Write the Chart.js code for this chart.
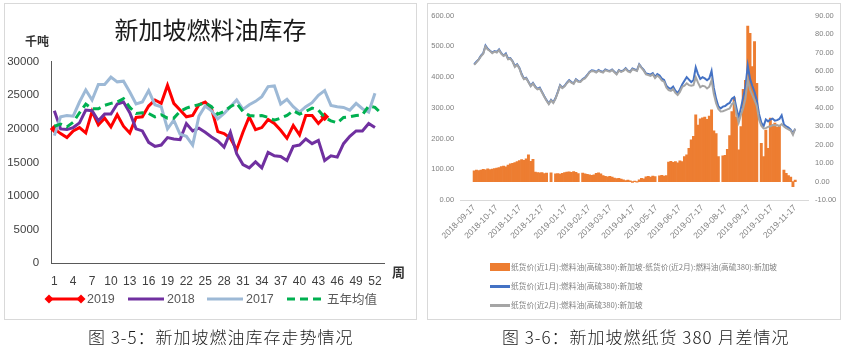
<!DOCTYPE html>
<html><head><meta charset="utf-8">
<script src="https://cdn.jsdelivr.net/npm/chart.js@4.4.1/dist/chart.umd.min.js"></script>
<style>
html,body{margin:0;padding:0;background:#fff;}
body{width:847px;height:345px;position:relative;overflow:hidden;font-family:'Liberation Sans','Noto Sans CJK SC',sans-serif;}
.abs{position:absolute;white-space:pre;line-height:1;}
.frame{position:absolute;border:1px solid #D9D9D9;box-sizing:border-box;}
canvas{position:absolute;}
.cap{position:absolute;font-family:'Noto Sans CJK SC',sans-serif;font-size:17px;font-weight:300;letter-spacing:1px;color:#1a1a1a;white-space:pre;line-height:1;}
.lg{position:absolute;font-size:12.5px;color:#595959;line-height:1;font-family:'Liberation Sans','Noto Sans CJK SC',sans-serif;}
.rl{position:absolute;font-size:7.7px;color:#7F7F7F;line-height:1;font-family:'Noto Sans CJK SC',sans-serif;white-space:pre;}
</style></head>
<body>
<div class="frame" style="left:4px;top:3px;width:413px;height:317px;"></div>
<div class="frame" style="left:427px;top:3px;width:414px;height:317px;"></div>
<canvas id="cL" width="413" height="317" style="left:4px;top:3px;"></canvas>
<canvas id="cR" width="414" height="317" style="left:427px;top:3px;"></canvas>

<div class="abs" style="left:25px;top:35px;font-size:12px;font-weight:bold;color:#333;font-family:'Noto Sans CJK SC',sans-serif;">千吨</div>
<div class="abs" style="left:392px;top:265px;font-size:13px;font-weight:bold;color:#333;font-family:'Noto Sans CJK SC',sans-serif;">周</div>

<!-- left legend -->
<svg class="abs" style="left:44px;top:294px" width="42" height="10"><line x1="5" y1="5" x2="37" y2="5" stroke="#FF0000" stroke-width="3"/><polygon points="5,0.5 9.5,5 5,9.5 0.5,5" fill="#FF0000"/><polygon points="37,0.5 41.5,5 37,9.5 32.5,5" fill="#FF0000"/></svg>
<div class="lg" style="left:87px;top:293px;">2019</div>
<svg class="abs" style="left:128px;top:294px" width="36" height="10"><line x1="0" y1="5" x2="36" y2="5" stroke="#7030A0" stroke-width="3"/></svg>
<div class="lg" style="left:167px;top:293px;">2018</div>
<svg class="abs" style="left:207px;top:294px" width="36" height="10"><line x1="0" y1="5" x2="36" y2="5" stroke="#9DB9D6" stroke-width="3"/></svg>
<div class="lg" style="left:246px;top:293px;">2017</div>
<svg class="abs" style="left:287px;top:294px" width="36" height="10"><line x1="0" y1="5" x2="36" y2="5" stroke="#00B050" stroke-width="3" stroke-dasharray="8,5"/></svg>
<div class="lg" style="left:327px;top:293px;font-family:'Noto Sans CJK SC',sans-serif;">五年均值</div>

<!-- right legend -->
<div class="abs" style="left:490px;top:263px;width:20px;height:8px;background:#ED7D31;"></div>
<div class="rl" style="left:511px;top:263px;">纸货价(近1月):燃料油(高硫380):新加坡-纸货价(近2月):燃料油(高硫380):新加坡</div>
<div class="abs" style="left:490px;top:285px;width:20px;height:2.5px;background:#4472C4;"></div>
<div class="rl" style="left:511px;top:282px;">纸货价(近1月):燃料油(高硫380):新加坡</div>
<div class="abs" style="left:490px;top:304px;width:20px;height:2.5px;background:#A5A5A5;"></div>
<div class="rl" style="left:511px;top:301px;">纸货价(近2月):燃料油(高硫380):新加坡</div>

<div class="cap" style="left:88px;top:328px;">图 3-5：新加坡燃油库存走势情况</div>
<div class="cap" style="left:502px;top:328px;">图 3-6：新加坡燃纸货 380 月差情况</div>

<script>
// ---------- Left chart data ----------
const weeks = [1,2,3,4,5,6,7,8,9,10,11,12,13,14,15,16,17,18,19,20,21,22,23,24,25,26,27,28,29,30,31,32,33,34,35,36,37,38,39,40,41,42,43,44,45,46,47,48,49,50,51,52,53];
const inv2019 = [20000,19300,18700,19700,20200,19400,22600,20600,21600,20300,22100,20400,19400,21700,21800,23400,24300,23800,26500,23800,22800,21800,22000,23600,24000,23000,19600,19300,18600,16900,19500,21800,19900,20200,21400,20800,19800,18600,20500,19100,22000,22000,20800,21800];
const inv2018 = [22700,20000,19900,20200,20900,22800,22700,21200,22200,22200,23700,24000,22400,20000,19700,18000,17400,17600,18700,18500,18400,20800,19700,20100,19500,18800,18200,17300,19500,16300,14700,14200,15100,14200,16500,16000,15900,15300,17400,17600,18500,17800,18300,15300,16000,15800,17800,18900,19700,19700,20800,20200];
const inv2017 = [19000,21800,22000,21900,24000,25800,24300,26600,26600,27700,27000,27100,25500,23700,24000,25700,23600,23300,20000,21300,19200,18900,17600,21900,23400,22700,21500,22300,23300,24300,22900,23600,24100,24800,26300,26400,23700,24400,23300,22500,23300,23900,25000,25700,23500,23300,23200,22800,23800,23000,22500,25300];
const avg5y = [20400,20700,20300,21000,22400,23700,23000,23000,23500,23800,24000,24500,23200,22300,22400,22300,21800,22100,21600,21600,22600,23100,23400,23600,23900,23300,22200,22600,23300,23800,22600,22000,21900,22000,21700,21300,21600,22000,22700,22200,22600,23100,22800,21700,21200,20900,21700,21800,22000,22100,23400,23200,22300];
const leftTitle = '新加坡燃料油库存';

// ---------- Right chart data ----------
const dates = ['2018-09-17','2018-09-20','2018-09-23','2018-09-26','2018-09-29','2018-10-02','2018-10-05','2018-10-08','2018-10-11','2018-10-14','2018-10-17','2018-10-20','2018-10-23','2018-10-26','2018-10-29','2018-11-01','2018-11-04','2018-11-07','2018-11-10','2018-11-13','2018-11-16','2018-11-19','2018-11-22','2018-11-25','2018-11-28','2018-12-01','2018-12-04','2018-12-07','2018-12-10','2018-12-13','2018-12-16','2018-12-19','2018-12-22','2018-12-25','2018-12-28','2018-12-31','2019-01-03','2019-01-06','2019-01-09','2019-01-12','2019-01-15','2019-01-18','2019-01-21','2019-01-24','2019-01-27','2019-01-30','2019-02-02','2019-02-05','2019-02-08','2019-02-11','2019-02-14','2019-02-17','2019-02-20','2019-02-23','2019-02-26','2019-03-01','2019-03-04','2019-03-07','2019-03-10','2019-03-13','2019-03-16','2019-03-19','2019-03-22','2019-03-25','2019-03-28','2019-03-31','2019-04-03','2019-04-06','2019-04-09','2019-04-12','2019-04-15','2019-04-18','2019-04-21','2019-04-24','2019-04-27','2019-04-30','2019-05-03','2019-05-06','2019-05-09','2019-05-12','2019-05-15','2019-05-18','2019-05-21','2019-05-24','2019-05-27','2019-05-30','2019-06-02','2019-06-05','2019-06-08','2019-06-11','2019-06-14','2019-06-17','2019-06-20','2019-06-23','2019-06-26','2019-06-29','2019-07-02','2019-07-05','2019-07-08','2019-07-11','2019-07-14','2019-07-17','2019-07-20','2019-07-23','2019-07-26','2019-07-29','2019-08-01','2019-08-04','2019-08-07','2019-08-10','2019-08-13','2019-08-16','2019-08-19','2019-08-22','2019-08-25','2019-08-28','2019-08-31','2019-09-03','2019-09-06','2019-09-09','2019-09-12','2019-09-15','2019-09-18','2019-09-21','2019-09-24','2019-09-27','2019-09-30','2019-10-03','2019-10-06','2019-10-09','2019-10-12','2019-10-15','2019-10-18','2019-10-21','2019-10-24','2019-10-27','2019-10-30','2019-11-02','2019-11-05','2019-11-08','2019-11-11','2019-11-14','2019-11-17'];
const near1 = [442,450,458,470,478,503,492,486,480,485,482,490,478,470,477,460,462,452,436,442,430,410,395,398,385,372,381,370,362,366,352,338,325,314,326,318,332,352,374,366,372,382,390,384,380,393,387,386,394,398,407,417,422,421,417,423,419,417,425,422,420,425,418,411,423,419,422,429,421,418,428,425,422,442,432,424,412,410,408,413,401,410,405,395,391,372,365,362,369,356,348,360,376,388,400,392,384,390,432,410,394,400,396,390,396,420,365,330,305,298,304,306,312,316,330,335,300,268,300,335,370,438,395,372,352,325,280,252,240,262,256,262,265,258,260,264,276,246,240,236,229,217,232];
const near2 = [440,448,457,468,476,500,490,485,478,483,480,488,476,469,474,458,460,450,433,440,428,407,393,396,383,370,379,367,360,363,350,336,323,312,324,316,330,350,372,364,370,380,388,382,378,391,385,384,392,396,405,415,420,419,415,421,417,415,423,420,418,423,416,409,421,417,420,427,419,416,426,423,420,440,430,421,409,407,404,409,397,405,399,389,385,366,358,355,361,349,342,352,368,372,380,374,372,374,400,382,367,372,370,363,369,390,345,315,296,288,289,292,295,298,312,318,282,252,278,300,330,392,360,342,325,306,262,242,233,234,238,240,244,243,244,241,247,239,234,230,226,212,232];
const spread = [5.8,6.2,5.9,6.3,6.6,6.4,6.9,6.5,6.8,7.0,7.3,7.6,8.1,8.4,8.0,9.0,9.6,9.9,10.3,10.8,11.4,11.9,11.5,12.3,14.5,11.0,12.0,5.2,4.9,4.8,4.9,4.4,4.6,null,4.8,null,4.2,4.3,4.0,4.5,4.9,5.1,5.3,5.0,5.4,5.0,4.4,null,4.6,4.2,3.9,3.6,3.4,3.7,4.5,4.8,4.2,3.3,2.8,2.6,2.9,2.4,1.9,1.6,1.8,1.4,0.9,0.6,0.8,0.4,-0.5,0.3,-0.3,0.9,1.8,1.5,2.6,2.9,2.4,3.0,2.7,null,3.1,3.4,3.0,3.3,10.6,11.0,10.4,10.8,10.2,11.2,10.9,13.6,14.5,18.0,22.6,24.5,36.2,30.7,34.0,34.6,35.0,33.8,35.6,38.9,27.5,26.0,13.6,null,13.9,14.2,17.5,25.0,38.0,45.6,35.0,17.2,29.8,50.0,55.0,84.4,80.5,62.4,76.0,53.3,null,20.8,13.6,28.0,18.1,34.5,30.8,31.8,29.5,30.5,null,6.3,4.5,3.2,2.5,-2.7,0.8];
const tickLabels = ['2018-09-17','2018-10-17','2018-11-17','2018-12-17','2019-01-17','2019-02-17','2019-03-17','2019-04-17','2019-05-17','2019-06-17','2019-07-17','2019-08-17','2019-09-17','2019-10-17','2019-11-17'];
const seriesNames = ['纸货价(近1月):燃料油(高硫380):新加坡-纸货价(近2月):燃料油(高硫380):新加坡','纸货价(近1月):燃料油(高硫380):新加坡','纸货价(近2月):燃料油(高硫380):新加坡'];

Chart.defaults.font.family = "'Liberation Sans','Noto Sans CJK SC',sans-serif";
Chart.defaults.animation = false;

// ---------- Left chart ----------
const lastIdx = inv2019.length - 1;
new Chart(document.getElementById('cL'), {
  type: 'line',
  data: {
    labels: weeks.map(String),
    datasets: [
      {label:'2019', data: inv2019, borderColor:'#FF0000', backgroundColor:'#FF0000', borderWidth:3, tension:0,
       pointStyle:'rectRot', pointRadius: c => (c.dataIndex === 0 || c.dataIndex === lastIdx) ? 4.5 : 0, pointBorderWidth:0, order:3},
      {label:'2018', data: inv2018, borderColor:'#7030A0', borderWidth:3, pointRadius:0, tension:0, order:2},
      {label:'2017', data: inv2017, borderColor:'#9DB9D6', borderWidth:3, pointRadius:0, tension:0, order:1},
      {label:'五年均值', data: avg5y, borderColor:'#00B050', borderWidth:3, borderDash:[8,5], pointRadius:0, tension:0, order:0}
    ]
  },
  options: {
    responsive:false, devicePixelRatio:1,
    layout:{padding:{left:0,right:0,top:0,bottom:0}},
    plugins:{
      legend:{display:false}, tooltip:{enabled:false},
      title:{display:true, text:leftTitle, color:'#1a1a1a', font:{size:24, family:"'Noto Sans CJK SC',sans-serif", weight:'normal'}, padding:{top:12,bottom:17.9}}
    },
    scales:{
      x:{offset:true, grid:{display:false, drawTicks:false}, border:{display:true,color:'#595959',width:1},
         ticks:{autoSkip:false, maxRotation:0, minRotation:0, padding:11, color:'#404040', font:{size:12},
                callback:(v,i)=> (i%3===0 && i<52) ? String(weeks[i]) : ''},
         afterFit: s => { s.height = 56.7; }},
      y:{min:0,max:30000, grid:{display:false, drawTicks:false}, border:{display:true,color:'#595959',width:1},
         ticks:{stepSize:5000, padding:12, color:'#404040', font:{size:11.5}, callback: v => String(v)},
         afterFit: s => { s.width = 47.2; }},
      yR:{position:'right', display:true, min:0, max:30000, grid:{display:false, drawTicks:false}, border:{display:false},
         ticks:{display:false}, afterFit: s => { s.width = 32.6; }}
    }
  }
});

// ---------- Right chart ----------
const base = Date.UTC(2018,8,17);
const dayOf = s => { const p = s.split('-').map(Number); return Math.round((Date.UTC(p[0],p[1]-1,p[2]) - base)/86400000); };
const xs = dates.map(dayOf);
const tickDays = tickLabels.map(dayOf);
const pts = arr => arr.map((v,i) => ({x: xs[i], y: v}));

new Chart(document.getElementById('cR'), {
  type: 'bar',
  data: {
    datasets: [
      {type:'line', label: seriesNames[2], data: pts(near2), yAxisID:'y', borderColor:'#A5A5A5', borderWidth:2, pointRadius:0, tension:0, order:1},
      {type:'line', label: seriesNames[1], data: pts(near1), yAxisID:'y', borderColor:'#4472C4', borderWidth:2, pointRadius:0, tension:0, order:2},
      {type:'bar', label: seriesNames[0], data: pts(spread), yAxisID:'y1', backgroundColor:'#ED7D31', borderWidth:0, barPercentage:1, categoryPercentage:1, order:3}
    ]
  },
  options: {
    responsive:false, devicePixelRatio:1,
    layout:{padding:{left:0,right:0,top:12.7,bottom:0}},
    plugins:{legend:{display:false}, tooltip:{enabled:false}},
    scales:{
      x:{type:'linear', min:-2.5, max:428.5, grid:{display:false, drawTicks:false}, border:{display:true,color:'#D9D9D9'},
         afterBuildTicks: s => { s.ticks = tickDays.map(v => ({value:v})); },
         ticks:{autoSkip:false, minRotation:45, maxRotation:45, padding:3, color:'#808080', font:{size:8.5},
                callback: v => { const i = tickDays.indexOf(v); return i >= 0 ? tickLabels[i] : ''; }},
         afterFit: s => { s.height = 120; }},
      y:{position:'left', min:0, max:600, grid:{display:false, drawTicks:false}, border:{display:false},
         ticks:{stepSize:100, padding:6.5, color:'#808080', font:{size:7.5}, callback: v => Number(v).toFixed(2)},
         afterFit: s => { s.width = 33.7; }},
      y1:{position:'right', min:-10, max:90, grid:{display:false, drawTicks:false}, border:{display:false},
         ticks:{stepSize:10, padding:6.3, color:'#808080', font:{size:7.5}, callback: v => Number(v).toFixed(2)},
         afterFit: s => { s.width = 32.3; }}
    }
  }
});
</script>
</body></html>
